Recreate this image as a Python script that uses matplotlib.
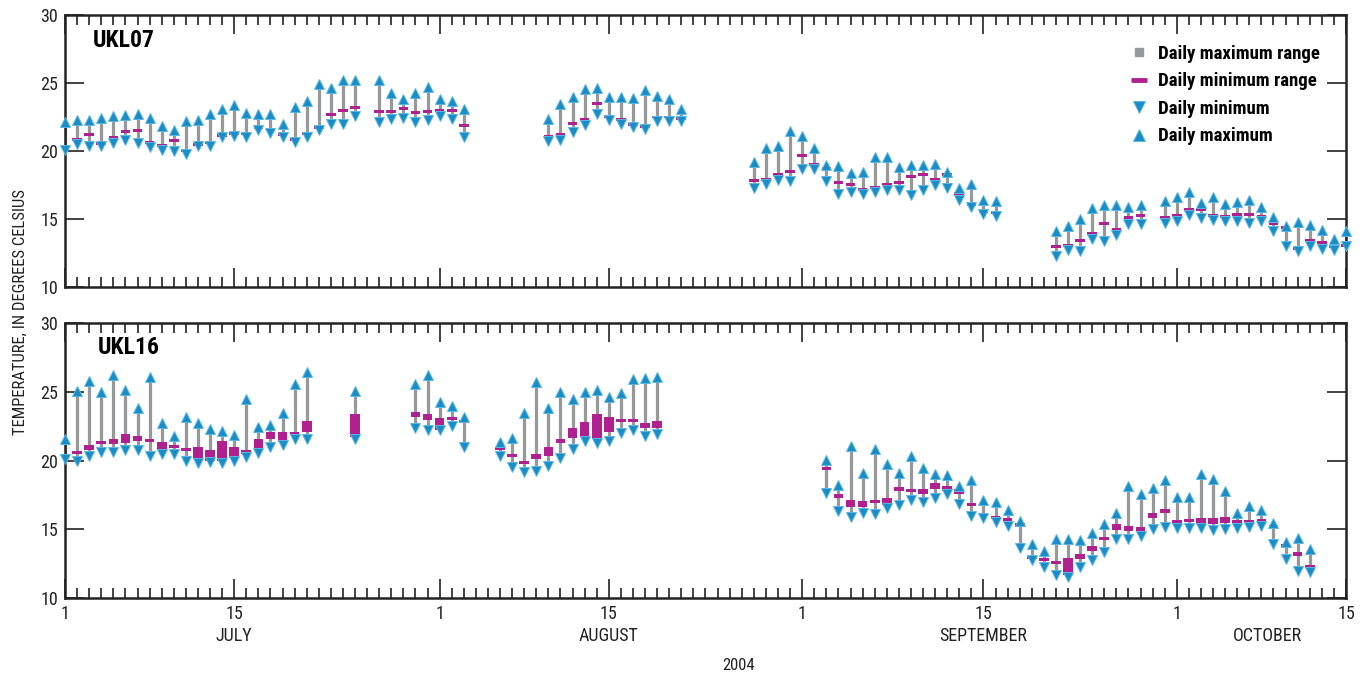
import numpy as np
import matplotlib
matplotlib.use('Agg')
import matplotlib.pyplot as plt
from matplotlib.lines import Line2D
from matplotlib.ticker import FixedLocator, MultipleLocator
import matplotlib.transforms as mtransforms
from matplotlib import font_manager

_installed = {f.name for f in font_manager.fontManager.ttflist}
_fams = [f for f in ['Roboto Condensed', 'Liberation Sans Narrow', 'Roboto', 'DejaVu Sans'] if f in _installed]
plt.rcParams['font.family'] = _fams

nan = np.nan

# ---------------- data (x = days after 1 July 2004) ----------------
ukl07_days = (list(range(0, 25)) + list(range(26, 34)) + list(range(40, 52))
              + list(range(57, 78)) + list(range(82, 90)) + list(range(91, 107)))
ukl07_max = [22.1, 22.3, 22.3, 22.4, 22.6, 22.65, 22.75, 22.45, 21.85, 21.55, 22.2, 22.3, 22.7,
             23.1, 23.35, 22.8, 22.7, 22.7, 21.95, 23.25, 23.7, 24.9, 24.6, 25.2, 25.2,
             25.2, 24.25, 23.85, 24.25, 24.7, 23.85, 23.65, 23.1,
             22.35, 23.45, 24.0, 24.55, 24.6, 24.0, 24.0, 23.9, 24.45, 24.05, 23.8, 23.1,
             19.2, 20.2, 20.35, 21.45, 21.1, 20.25, 18.95, 18.9, 18.4, 18.45, 19.55, 19.55,
             18.8, 19.0, 18.95, 19.05, 18.45, 17.25, 17.55, 16.4, 16.35,
             14.15, 14.5, 15.0, 15.8, 16.05, 16.05, 15.85, 16.05,
             16.35, 16.6, 17.0, 16.15, 16.65, 16.1, 16.25, 16.4, 15.9, 15.15, 14.5, 14.75,
             14.55, 14.2, 13.55, 14.15]
ukl07_min = [20.1, 20.5, 20.4, 20.4, 20.6, 20.8, 20.6, 20.3, 20.1, 20.0, 19.75, 20.4, 20.4,
             21.0, 21.1, 21.05, 21.55, 21.3, 21.0, 20.65, 21.05, 21.55, 21.95, 21.95, 22.6,
             22.15, 22.35, 22.45, 22.1, 22.25, 22.6, 22.35, 21.0,
             20.75, 20.8, 21.4, 21.9, 22.7, 22.3, 22.0, 21.8, 21.6, 22.2, 22.2, 22.2,
             17.25, 17.55, 17.9, 17.8, 18.7, 18.65, 17.8, 16.85, 16.95, 16.85, 17.0, 17.1,
             17.1, 16.75, 17.1, 17.5, 17.25, 16.4, 15.85, 15.35, 15.2,
             12.3, 12.7, 12.65, 13.55, 13.4, 13.8, 14.65, 14.65,
             14.7, 14.85, 15.3, 15.05, 14.9, 14.85, 14.85, 14.7, 14.85, 14.1, 13.05, 12.65,
             13.05, 12.8, 12.7, 13.0]
ukl07_minrange_lo = [nan, 20.85, 21.2, 20.55, 21.0, 21.45, 21.5, 20.6, 20.4, 20.8, 20.05, 20.5, 20.6,
                     21.15, 21.3, 21.3, 21.7, 21.55, 21.2, 20.85, 21.3, 21.75, 22.7, 23.0, 23.2,
                     22.9, 22.9, 23.1, 22.8, 22.9, 23.0, 23.0, 21.9,
                     21.05, 21.2, 22.0, 22.3, 23.5, 22.5, 22.3, 21.95, 21.8, 22.5, 22.5, 22.4,
                     17.85, 17.9, 18.3, 18.5, 19.7, 19.0, 18.7, 17.7, 17.55, 17.15, 17.3, 17.55,
                     17.65, 18.15, 18.3, 17.9, 18.3, 16.9, 16.1, 15.55, 15.5,
                     13.0, 13.05, 13.45, 13.9, 14.7, 14.25, 15.1, 15.25,
                     15.1, 15.25, 15.7, 15.7, 15.25, 15.2, 15.35, 15.35, 15.2, 14.65, 14.35, 12.85,
                     13.45, 13.25, 12.95, 13.05]
ukl07_minrange_hi = list(ukl07_minrange_lo)

ukl16_days = (list(range(0, 21)) + [24] + list(range(29, 34)) + list(range(36, 50))
              + list(range(63, 104)))
ukl16_max = [21.6, 25.05, 25.8, 25.0, 26.25, 25.15, 23.8, 26.05, 22.75, 21.75, 23.15, 22.75, 22.3,
             22.15, 21.85, 24.45, 22.45, 22.55, 23.45, 25.6, 26.45,
             25.05,
             25.6, 26.2, 24.25, 23.95, 23.15,
             21.35, 21.65, 23.45, 25.7, 23.85, 24.95, 24.45, 25.0, 25.15, 24.6, 24.9, 25.9, 26.0, 26.1,
             20.05, 18.2, 21.05, 19.1, 20.85, 19.75, 19.1, 20.35, 19.45, 19.0, 18.95, 18.15, 18.55,
             17.15, 16.95, 16.4, 15.6, 13.95, 13.4, 14.3, 14.3, 14.2, 14.75, 15.4, 16.2, 18.15,
             17.6, 18.0, 18.6, 17.35, 17.35, 19.0, 18.65, 17.8, 16.2, 16.7, 16.4, 15.45, 14.05,
             14.35, 13.6]
ukl16_min = [20.1, 20.0, 20.3, 20.6, 20.6, 20.75, 20.8, 20.35, 20.5, 20.5, 20.0, 19.8, 19.9,
             19.8, 20.0, 20.25, 20.55, 21.0, 21.1, 21.55, 21.6,
             21.6,
             22.4, 22.2, 22.25, 22.5, 21.0,
             20.35, 19.5, 19.15, 19.25, 19.6, 20.2, 20.85, 21.4, 21.3, 21.4, 22.0, 22.2, 21.8, 21.9,
             17.65, 16.35, 15.9, 16.2, 16.1, 16.55, 16.8, 17.1, 16.95, 17.3, 17.55, 16.85, 15.95,
             15.8, 15.5, 15.25, 13.65, 12.75, 12.25, 11.65, 11.5, 12.25, 12.75, 13.35, 14.3, 14.3,
             14.5, 15.05, 15.2, 15.1, 15.1, 15.1, 14.95, 15.0, 15.1, 15.15, 15.25, 13.95, 12.85,
             12.0, 11.9]
ukl16_minrange_lo = [nan, 20.5, 20.75, 21.2, 21.2, 21.3, 21.45, 21.4, 20.8, 20.9, 20.75, 20.2, 20.0,
                     19.95, 20.15, 20.5, 20.75, 21.55, 21.35, 21.85, 22.05,
                     21.7,
                     23.15, 22.95, 22.25, 22.95, 22.75,
                     20.75, 20.25, 19.75, 20.1, 20.3, 21.25, 21.65, 21.7, 21.55, 22.05, 22.8, 22.8, 22.4, 22.35,
                     19.35, 17.3, 16.6, 16.65, 16.95, 16.8, 17.75, 17.7, 17.55, 17.9, 17.75, 17.6, 16.75,
                     15.95, 15.8, 15.65, 15.2, 12.9, 12.75, 12.5, 11.7, 12.85, 13.4, 14.25, 14.95, 14.9,
                     14.9, 15.85, 16.15, 15.4, 15.5, 15.35, 15.4, 15.45, 15.45, 15.45, 15.55, 15.1, 13.7,
                     13.1, 12.2]
ukl16_minrange_hi = [nan, 20.6, 21.1, 21.45, 21.55, 21.9, 21.75, 21.55, 21.35, 21.15, 20.9, 21.0, 20.75,
                     21.45, 21.0, 20.8, 21.55, 22.1, 22.1, 22.1, 22.9,
                     23.35,
                     23.5, 23.4, 23.1, 23.15, 22.95,
                     21.0, 20.45, 19.95, 20.45, 20.95, 21.6, 22.4, 22.8, 23.35, 23.15, 23.05, 23.05, 22.7, 22.85,
                     19.5, 17.55, 17.1, 17.05, 17.15, 17.3, 18.1, 17.95, 17.9, 18.4, 18.15, 17.9, 16.9,
                     16.15, 15.95, 15.8, 15.45, 13.05, 12.9, 12.65, 12.9, 13.2, 13.8, 14.4, 15.35, 15.25,
                     15.2, 16.15, 16.45, 15.65, 15.75, 15.8, 15.8, 15.9, 15.65, 15.65, 15.75, 15.25, 13.9,
                     13.3, 12.4]

site_labels = ['UKL07', 'UKL16']
tick_days = [0, 14, 31, 45, 61, 76, 92, 106]
tick_labels = ['1', '15', '1', '15', '1', '15', '1', '15']
month_days = [14, 45, 76, 99.5]
month_labels = ['JULY', 'AUGUST', 'SEPTEMBER', 'OCTOBER']
legend_labels = ['Daily maximum range', 'Daily minimum range', 'Daily minimum', 'Daily maximum']

# ---------------- style ----------------
GRAY = '#97989a'
MAGENTA = '#b0218f'
BLUE = '#1a8cc6'
BLUE_EDGE = '#5bb8e2'
DARK = '#222222'

W, H = 1362, 677
fig = plt.figure(figsize=(W / 100, H / 100), dpi=100)

def px_axes(l, t, r, b):
    return fig.add_axes([l / W, 1 - b / H, (r - l) / W, (b - t) / H])

ax1 = px_axes(65, 15, 1346, 287)
ax2 = px_axes(65, 323, 1346, 598)


def draw(ax, days, tmax, tmin, mlo, mhi):
    d = np.asarray(days, float)
    tmax = np.asarray(tmax, float)
    tmin = np.asarray(tmin, float)
    lo = np.asarray(mlo, float)
    hi = np.asarray(mhi, float)
    ax.vlines(d, tmin, tmax, color=GRAY, lw=2.3, zorder=2)
    h = np.maximum(hi - lo, 0.22)
    mid = (lo + hi) / 2
    ok = ~np.isnan(mid)
    ax.bar(d[ok], h[ok], bottom=(mid - h / 2)[ok], width=0.8, color=MAGENTA,
           linewidth=0, zorder=3)
    ax.plot(d, tmax, ls='none', marker='^', ms=7, mfc=BLUE, mec=BLUE_EDGE, mew=0.7,
            zorder=4, clip_on=False)
    ax.plot(d, tmin, ls='none', marker='v', ms=7, mfc=BLUE, mec=BLUE_EDGE, mew=0.7,
            zorder=4, clip_on=False)


draw(ax1, ukl07_days, ukl07_max, ukl07_min, ukl07_minrange_lo, ukl07_minrange_hi)
draw(ax2, ukl16_days, ukl16_max, ukl16_min, ukl16_minrange_lo, ukl16_minrange_hi)

for ax in (ax1, ax2):
    ax.set_xlim(0, 106)
    ax.set_ylim(10, 30)
    ax.set_yticks([10, 15, 20, 25, 30])
    ax.xaxis.set_major_locator(FixedLocator(tick_days))
    ax.xaxis.set_minor_locator(MultipleLocator(1))
    ax.tick_params(which='both', direction='in', top=True, right=True, colors=DARK,
                   labelsize=13, width=1.2)
    ax.tick_params(which='major', length=14, pad=5)
    ax.tick_params(which='minor', length=7)
    ax.tick_params(axis='y', which='minor', left=False, right=False)
    for s in ax.spines.values():
        s.set_linewidth(1.8)
        s.set_color(DARK)

ax1.set_xticklabels([])
ax2.set_xticklabels(tick_labels)

fig.text(93 / W, 1 - 47 / H, site_labels[0], fontsize=17, fontweight='bold', va='baseline')
fig.text(98 / W, 1 - 354 / H, site_labels[1], fontsize=17, fontweight='bold', va='baseline')

trans = mtransforms.blended_transform_factory(ax2.transData, fig.transFigure)
for md, ml in zip(month_days, month_labels):
    ax2.text(md, 1 - 636 / H, ml, transform=trans, ha='center', va='center',
             fontsize=13, color=DARK, clip_on=False)
ax2.text(55.7, 1 - 665 / H, '2004', transform=trans, ha='center', va='center',
         fontsize=12, color=DARK, clip_on=False)

fig.text(20 / W, 1 - 312 / H, 'TEMPERATURE, IN DEGREES CELSIUS', rotation=90,
         ha='center', va='center', fontsize=12, color=DARK)

handles = [
    Line2D([], [], ls='none', marker='s', ms=6, mfc=GRAY, mec=GRAY),
    Line2D([], [], ls='none', marker='_', ms=11, mew=3.5, color=MAGENTA),
    Line2D([], [], ls='none', marker='v', ms=8, mfc=BLUE, mec=BLUE_EDGE, mew=0.7),
    Line2D([], [], ls='none', marker='^', ms=8, mfc=BLUE, mec=BLUE_EDGE, mew=0.7),
]
fig.legend(handles, legend_labels, loc='upper right', bbox_to_anchor=(1320 / W, 1 - 45 / H),
           frameon=False, prop={'size': 13.5, 'weight': 'bold'}, handlelength=1.0,
           handletextpad=0.5, labelspacing=0.5, borderpad=0, borderaxespad=0,
           alignment='left')

fig.savefig('out.png', dpi=100)
